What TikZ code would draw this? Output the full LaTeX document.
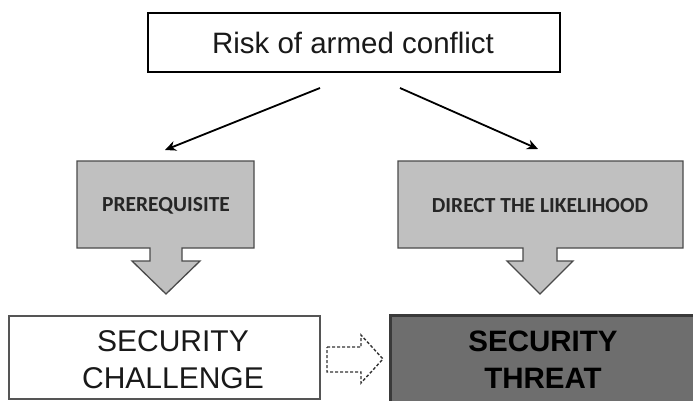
\documentclass[tikz,border=0pt]{standalone}
\usepackage{fontspec}
\setmainfont{Liberation Sans}
\newfontfamily\calibrilike{Carlito}
\usetikzlibrary{arrows.meta}
\definecolor{calloutfill}{HTML}{C0C0C0}
\definecolor{calloutline}{HTML}{4A4A4A}
\definecolor{threatfill}{HTML}{6E6E6E}
\definecolor{threatline}{HTML}{3A3A3A}
\definecolor{challline}{HTML}{555555}
\begin{document}
\begin{tikzpicture}[x=1pt,y=-1pt,
  topbox/.style={draw=black,line width=2.4pt,fill=white},
  callout/.style={draw=calloutline,line width=1.3pt,fill=calloutfill,line join=miter},
  callouttext/.style={font=\calibrilike\bfseries\fontsize{21.5}{24}\selectfont,text=black!85},
  challbox/.style={draw=challline,line width=2.2pt,fill=white},
  threatbox/.style={draw=threatline,line width=3pt,fill=threatfill},
  bigtext/.style={font=\fontsize{30}{37}\selectfont,align=center,text=black!90},
  linkarrow/.style={draw=black,line width=1.8pt,-{Stealth[length=11pt,width=10pt]}},
  dashedarrow/.style={draw=black!80,line width=1.4pt,dash pattern=on 3pt off 2pt,fill=white,line join=miter}
]
\useasboundingbox (0,0) rectangle (693,401);
\clip (0,0) rectangle (693,401);
\fill[white] (0,0) rectangle (693,401);

% top statement
\draw[topbox] (148,13) rectangle (560,72);
\node[font=\fontsize{29.5}{34}\selectfont,text=black!90] (risk) at (353,43) {Risk of armed conflict};
\coordinate (riskL) at (320,88);
\coordinate (riskR) at (400,88);

% left callout: prerequisite
\draw[callout] (77,161) -- (254,161) -- (254,248) -- (182,248) -- (182,261) -- (200,261)
  -- (166,294) -- (132,261) -- (150,261) -- (150,248) -- (77,248) -- cycle;
\node[callouttext] (prereq) at (166,206) {PREREQUISITE};
\coordinate (prereqTop) at (165,150);

% right callout: direct the likelihood
\draw[callout] (398,161) -- (683,161) -- (683,248) -- (557,248) -- (557,261) -- (573,261)
  -- (540,294) -- (507,261) -- (523,261) -- (523,248) -- (398,248) -- cycle;
\node[callouttext] (direct) at (540,206) {DIRECT THE LIKELIHOOD};
\coordinate (directTop) at (538,149);

% connectors from the top statement
\draw[linkarrow] (riskL) -- (prereqTop);
\draw[linkarrow] (riskR) -- (directTop);

% bottom boxes
\draw[challbox] (9,316) rectangle (320,399);
\node[bigtext] (challenge) at (173,360) {SECURITY\\CHALLENGE};

\draw[threatbox] (390,315) rectangle (700,410);
\node[bigtext,font=\bfseries\fontsize{29.5}{37}\selectfont,text=black] (threat) at (543,360) {SECURITY\\THREAT};

% dashed transition arrow
\draw[dashedarrow] (327,347) -- (361,347) -- (361,335) -- (383,359) -- (361,383) -- (361,372)
  -- (327,372) -- cycle;
\end{tikzpicture}
\end{document}
